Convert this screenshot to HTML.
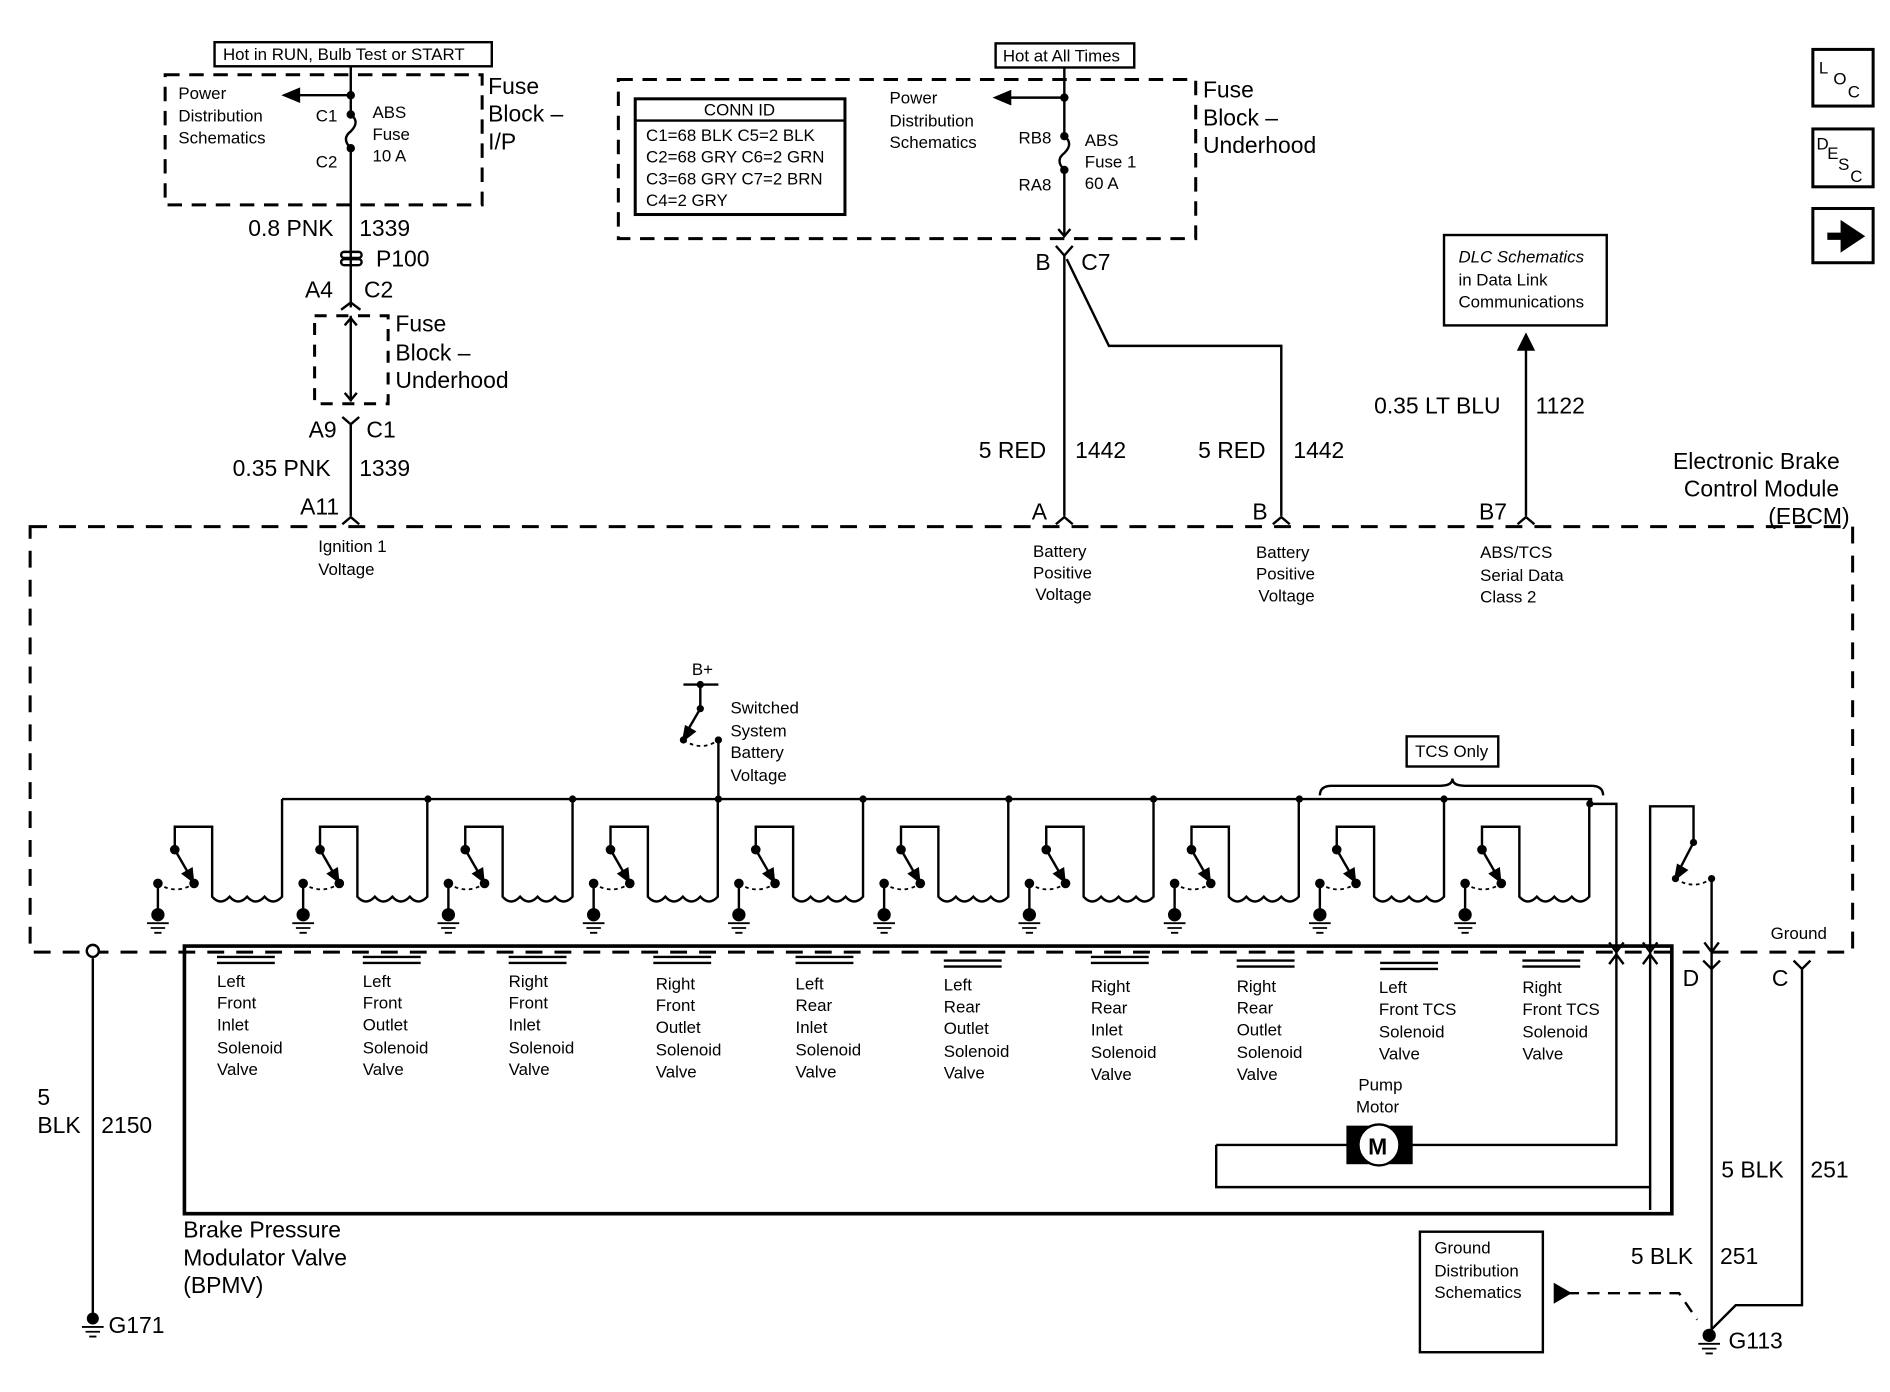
<!DOCTYPE html>
<html><head><meta charset="utf-8">
<style>
html,body{margin:0;padding:0;background:#fff;}
svg{display:block;}
text{font-family:"Liberation Sans",sans-serif;fill:#000;}
.s{font-size:14px;}
.m{font-size:19px;}
</style></head>
<body>
<svg width="1890" height="1392" viewBox="0 0 1568 1155" preserveAspectRatio="none" xmlns="http://www.w3.org/2000/svg">
<defs>
<g id="u" fill="none" stroke="#000" stroke-width="2">
  <path d="M145,705 V686 H176 V744 q7,8 14.5,0 q7,8 14.5,0 q7,8 14.5,0 q7,8 14.5,0 V663"/>
  <line x1="145" y1="705" x2="160" y2="731"/>
  <path d="M160,731 l-1,-10 l-7,4 z" fill="#000"/>
  <circle cx="145" cy="705" r="3" fill="#000"/>
  <circle cx="161" cy="733" r="3" fill="#000"/>
  <circle cx="131" cy="733" r="3" fill="#000"/>
  <path d="M131,733 q15,10 30,0" stroke-dasharray="3,3" stroke-width="1.5"/>
  <line x1="131" y1="733" x2="131" y2="755"/>
  <circle cx="131" cy="759" r="5.5" fill="#000" stroke="none"/>
  <path d="M122,766 h18 M125,770 h12 M128,774 h6" stroke-width="1.5"/>
</g>
</defs>

<g fill="none" stroke="#000" stroke-width="2">
<!-- top-left -->
<rect x="178" y="35" width="230" height="20"/>
<path d="M137,62 H400 V170 H137 Z" stroke-dasharray="12,8" stroke-width="2.5"/>
<line x1="291" y1="55" x2="291" y2="95"/>
<line x1="291" y1="79" x2="245" y2="79"/>
<path d="M236,79 l12,-5 v10 z" fill="#000"/>
<path d="M291,95 q8,6 0,14 q-8,6 0,14"/>
<line x1="291" y1="123" x2="291" y2="255"/>
<circle cx="291" cy="79" r="2.5" fill="#000"/><circle cx="291" cy="95" r="2.5" fill="#000"/><circle cx="291" cy="123" r="2.5" fill="#000"/>
<rect x="283" y="209" width="17" height="5" rx="2.5"/><rect x="283" y="215" width="17" height="5" rx="2.5"/>
<path d="M283,257 l8,-6 l8,6"/>
<path d="M261,262 H322 V335 H261 Z" stroke-dasharray="10,8" stroke-width="2.5"/>
<line x1="291" y1="262" x2="291" y2="333"/>
<path d="M286,270 l5,-6 l5,6 M286,326 l5,6 l5,-6"/>
<path d="M284,346 l7,6 l7,-6 M291,352 V428"/>
<path d="M284,435 l7,-6 l7,6"/>

<!-- top-middle -->
<rect x="826" y="36" width="115" height="20"/>
<path d="M513,66 H992 V198 H513 Z" stroke-dasharray="12,8" stroke-width="2.5"/>
<rect x="527" y="82" width="174" height="96" stroke-width="2.5"/>
<line x1="527" y1="100" x2="701" y2="100"/>
<line x1="883" y1="56" x2="883" y2="113"/>
<line x1="883" y1="81" x2="835" y2="81"/>
<path d="M826,81 l12,-5 v10 z" fill="#000"/>
<path d="M883,113 q8,6 0,14 q-8,6 0,14"/>
<line x1="883" y1="141" x2="883" y2="196"/>
<circle cx="883" cy="81" r="2.5" fill="#000"/><circle cx="883" cy="113" r="2.5" fill="#000"/><circle cx="883" cy="141" r="2.5" fill="#000"/>
<path d="M878,190 l5,6 l5,-6"/>
<path d="M876,204 l7,8 l7,-8 M883,212 V428"/>
<path d="M885,215 L920,287 H1063 V428"/>
<path d="M876,435 l7,-6 l7,6 M1056,435 l7,-6 l7,6"/>

<!-- DLC -->
<rect x="1198" y="195" width="135" height="75"/>
<line x1="1266" y1="290" x2="1266" y2="428"/>
<path d="M1266,278 l-6,12 h12 z" fill="#000"/>
<path d="M1259,435 l7,-6 l7,6"/>

<!-- icons -->
<rect x="1504" y="41" width="50" height="47" stroke-width="2.5"/>
<rect x="1504" y="107" width="50" height="48" stroke-width="2.5"/>
<rect x="1504" y="173" width="50" height="45" stroke-width="2.5"/>
<path d="M1516,196 h14 v-8 l12,8 l-12,8 v-8" fill="#000" stroke-width="6"/>

<!-- EBCM dashed -->
<path d="M25,437 H1537 V790 H25 Z" stroke-dasharray="14,10" stroke-width="2.5"/>

<!-- bus -->
<path d="M234,663 H1320 V665 M1319,667 H1341 V950 H1160"/>
<path d="M1335,782 l6,8 l6,-8 M1335,800 l6,-8 l6,8"/>
<!-- switch B+ -->
<path d="M567,568 H596 M581,568 V588 M596,614 V663"/>
<line x1="581" y1="588" x2="567" y2="612"/>
<path d="M567,614 l2,-11 l7,4 z" fill="#000"/>
<path d="M567,614 q15,10 29,0" stroke-dasharray="3,3" stroke-width="1.5"/>

<!-- pump relay -->
<path d="M1369,1004 V669 H1405 V699"/>
<line x1="1405" y1="699" x2="1391" y2="726"/>
<path d="M1390,729 l2,-11 l7,4 z" fill="#000"/>
<path d="M1390,729 q15,10 30,0" stroke-dasharray="3,3" stroke-width="1.5"/>
<path d="M1420,729 V1105"/>
<path d="M1363,782 l6,8 l6,-8 M1363,800 l6,-8 l6,8 M1414,782 l6,8 l6,-8 M1413,797 l7,7 l7,-7"/>
<path d="M1488,797 l7,7 l7,-7 M1495,804 V1083 H1440 L1420,1103"/>

<!-- BPMV -->
<path d="M153,1007 V785 H1387 V1007 Z" stroke-width="3"/>
<path d="M1009,950 H1125 M1009,950 V985 H1369" />
<rect x="1118" y="935" width="53" height="30" fill="#000"/>
<circle cx="1144" cy="950" r="17" fill="#fff" stroke-width="2"/>

<!-- TCS brace -->
<rect x="1167" y="611" width="76" height="25"/>
<path d="M1095,660 q0,-8 10,-8 H1195 q10,0 10,-6 q0,6 10,6 H1320 q10,0 10,8"/>

<!-- ground dist -->
<rect x="1178" y="1022" width="102" height="100"/>
<path d="M1300,1073 H1393 L1408,1095" stroke-dasharray="10,7"/>
<path d="M1290,1066 l12,7 l-12,7 z" fill="#000"/>

<!-- G171 -->
<line x1="77" y1="795" x2="77" y2="1090"/>
<circle cx="77" cy="789" r="5" fill="#fff"/>
</g>
<circle cx="77" cy="1094" r="5" fill="#000"/>
<path d="M68,1101 h18 M71,1105 h12 M74,1109 h6" stroke="#000" stroke-width="1.5"/>
<circle cx="1418" cy="1108" r="5.5" fill="#000"/>
<path d="M1409,1115 h18 M1412,1119 h12 M1415,1123 h6" stroke="#000" stroke-width="1.5"/>

<!-- bus junction dots -->
<g fill="#000">
<circle cx="355" cy="663" r="3"/><circle cx="475" cy="663" r="3"/><circle cx="596" cy="663" r="3"/><circle cx="716" cy="663" r="3"/><circle cx="837" cy="663" r="3"/><circle cx="957" cy="663" r="3"/><circle cx="1078" cy="663" r="3"/><circle cx="1198" cy="663" r="3"/><circle cx="1319" cy="667" r="3"/>
<circle cx="581" cy="568" r="3"/><circle cx="581" cy="588" r="3"/><circle cx="567" cy="614" r="3"/><circle cx="596" cy="614" r="3"/>
<circle cx="1405" cy="699" r="3"/><circle cx="1390" cy="729" r="3"/><circle cx="1420" cy="729" r="3"/>
</g>

<use href="#u"/>
<use href="#u" x="120.5"/>
<use href="#u" x="241"/>
<use href="#u" x="361.5"/>
<use href="#u" x="482"/>
<use href="#u" x="602.5"/>
<use href="#u" x="723"/>
<use href="#u" x="843.5"/>
<use href="#u" x="964"/>
<use href="#u" x="1084.5"/>

<!-- valve label double bars -->
<g stroke="#000" stroke-width="2">
<path d="M180,794 h48 M180,799 h48 M301,794 h48 M301,799 h48 M422,794 h48 M422,799 h48 M542,794 h48 M542,799 h48 M660,794 h48 M660,799 h48 M783,797 h48 M783,802 h48 M905,794 h48 M905,799 h48 M1026,797 h48 M1026,802 h48 M1145,799 h48 M1145,804 h48 M1263,797 h48 M1263,802 h48"/>
</g>

<!-- texts -->
<text class="s" x="185" y="50">Hot in RUN, Bulb Test or START</text>
<text class="s" x="148" y="82">Power</text><text class="s" x="148" y="101">Distribution</text><text class="s" x="148" y="119">Schematics</text>
<text class="s" x="262" y="101">C1</text><text class="s" x="262" y="139">C2</text>
<text class="s" x="309" y="98">ABS</text><text class="s" x="309" y="116">Fuse</text><text class="s" x="309" y="134">10 A</text>
<text class="m" x="405" y="78">Fuse</text><text class="m" x="405" y="101">Block –</text><text class="m" x="405" y="124">I/P</text>
<text class="m" x="206" y="196">0.8 PNK</text><text class="m" x="298" y="196">1339</text>
<text class="m" x="312" y="221">P100</text>
<text class="m" x="253" y="247">A4</text><text class="m" x="302" y="247">C2</text>
<text class="m" x="328" y="275">Fuse</text><text class="m" x="328" y="299">Block –</text><text class="m" x="328" y="322">Underhood</text>
<text class="m" x="256" y="363">A9</text><text class="m" x="304" y="363">C1</text>
<text class="m" x="193" y="395">0.35 PNK</text><text class="m" x="298" y="395">1339</text>
<text class="m" x="249" y="427">A11</text>
<text class="s" x="264" y="458">Ignition 1</text><text class="s" x="264" y="477">Voltage</text>

<text class="s" x="832" y="51">Hot at All Times</text>
<text class="s" x="584" y="96">CONN ID</text>
<text class="s" x="536" y="117">C1=68 BLK  C5=2 BLK</text>
<text class="s" x="536" y="135">C2=68 GRY C6=2 GRN</text>
<text class="s" x="536" y="153">C3=68 GRY C7=2 BRN</text>
<text class="s" x="536" y="171">C4=2 GRY</text>
<text class="s" x="738" y="86">Power</text><text class="s" x="738" y="105">Distribution</text><text class="s" x="738" y="123">Schematics</text>
<text class="s" x="845" y="119">RB8</text><text class="s" x="845" y="158">RA8</text>
<text class="s" x="900" y="121">ABS</text><text class="s" x="900" y="139">Fuse 1</text><text class="s" x="900" y="157">60 A</text>
<text class="m" x="998" y="81">Fuse</text><text class="m" x="998" y="104">Block –</text><text class="m" x="998" y="127">Underhood</text>
<text class="m" x="859" y="224">B</text><text class="m" x="897" y="224">C7</text>
<text class="m" x="812" y="380">5 RED</text><text class="m" x="892" y="380">1442</text>
<text class="m" x="994" y="380">5 RED</text><text class="m" x="1073" y="380">1442</text>
<text class="m" x="856" y="431">A</text><text class="m" x="1039" y="431">B</text><text class="m" x="1227" y="431">B7</text>
<text class="s" x="857" y="462">Battery</text><text class="s" x="857" y="480">Positive</text><text class="s" x="859" y="498">Voltage</text>
<text class="s" x="1042" y="463">Battery</text><text class="s" x="1042" y="481">Positive</text><text class="s" x="1044" y="499">Voltage</text>
<text class="s" x="1228" y="463">ABS/TCS</text><text class="s" x="1228" y="482">Serial Data</text><text class="s" x="1228" y="500">Class 2</text>
<text class="s" x="1210" y="218" font-style="italic">DLC Schematics</text><text class="s" x="1210" y="237">in Data Link</text><text class="s" x="1210" y="255">Communications</text>
<text class="m" x="1140" y="343">0.35 LT BLU</text><text class="m" x="1274" y="343">1122</text>
<text class="m" x="1388" y="389">Electronic Brake</text><text class="m" x="1397" y="412">Control Module</text><text class="m" x="1467" y="435">(EBCM)</text>
<text class="s" x="1509" y="61">L</text><text class="s" x="1521" y="70">O</text><text class="s" x="1533" y="81">C</text>
<text class="s" x="1507" y="124">D</text><text class="s" x="1516" y="132">E</text><text class="s" x="1525" y="141">S</text><text class="s" x="1535" y="151">C</text>

<text class="s" x="574" y="560">B+</text>
<text class="s" x="606" y="592">Switched</text><text class="s" x="606" y="611">System</text><text class="s" x="606" y="629">Battery</text><text class="s" x="606" y="648">Voltage</text>
<text class="s" x="1174" y="628">TCS Only</text>
<text class="s" x="1469" y="779">Ground</text>

<g class="s">
<text class="s" x="180" y="819">Left</text><text class="s" x="180" y="837">Front</text><text class="s" x="180" y="855">Inlet</text><text class="s" x="180" y="874">Solenoid</text><text class="s" x="180" y="892">Valve</text>
<text class="s" x="301" y="819">Left</text><text class="s" x="301" y="837">Front</text><text class="s" x="301" y="855">Outlet</text><text class="s" x="301" y="874">Solenoid</text><text class="s" x="301" y="892">Valve</text>
<text class="s" x="422" y="819">Right</text><text class="s" x="422" y="837">Front</text><text class="s" x="422" y="855">Inlet</text><text class="s" x="422" y="874">Solenoid</text><text class="s" x="422" y="892">Valve</text>
<text class="s" x="544" y="821">Right</text><text class="s" x="544" y="839">Front</text><text class="s" x="544" y="857">Outlet</text><text class="s" x="544" y="876">Solenoid</text><text class="s" x="544" y="894">Valve</text>
<text class="s" x="660" y="821">Left</text><text class="s" x="660" y="839">Rear</text><text class="s" x="660" y="857">Inlet</text><text class="s" x="660" y="876">Solenoid</text><text class="s" x="660" y="894">Valve</text>
<text class="s" x="783" y="822">Left</text><text class="s" x="783" y="840">Rear</text><text class="s" x="783" y="858">Outlet</text><text class="s" x="783" y="877">Solenoid</text><text class="s" x="783" y="895">Valve</text>
<text class="s" x="905" y="823">Right</text><text class="s" x="905" y="841">Rear</text><text class="s" x="905" y="859">Inlet</text><text class="s" x="905" y="878">Solenoid</text><text class="s" x="905" y="896">Valve</text>
<text class="s" x="1026" y="823">Right</text><text class="s" x="1026" y="841">Rear</text><text class="s" x="1026" y="859">Outlet</text><text class="s" x="1026" y="878">Solenoid</text><text class="s" x="1026" y="896">Valve</text>
<text class="s" x="1144" y="824">Left</text><text class="s" x="1144" y="842">Front TCS</text><text class="s" x="1144" y="861">Solenoid</text><text class="s" x="1144" y="879">Valve</text>
<text class="s" x="1263" y="824">Right</text><text class="s" x="1263" y="842">Front TCS</text><text class="s" x="1263" y="861">Solenoid</text><text class="s" x="1263" y="879">Valve</text>
</g>
<text class="s" x="1127" y="905">Pump</text><text class="s" x="1125" y="923">Motor</text>
<text x="1135" y="958" font-size="19" font-weight="bold">M</text>
<text class="m" x="1396" y="818">D</text><text class="m" x="1470" y="818">C</text>
<text class="m" x="31" y="917">5</text><text class="m" x="31" y="940">BLK</text><text class="m" x="84" y="940">2150</text>
<text class="m" x="152" y="1027">Brake Pressure</text><text class="m" x="152" y="1050">Modulator Valve</text><text class="m" x="152" y="1073">(BPMV)</text>
<text class="m" x="90" y="1106">G171</text>
<text class="m" x="1428" y="977">5 BLK</text><text class="m" x="1502" y="977">251</text>
<text class="m" x="1353" y="1049">5 BLK</text><text class="m" x="1427" y="1049">251</text>
<text class="m" x="1434" y="1119">G113</text>
<text class="s" x="1190" y="1040">Ground</text><text class="s" x="1190" y="1059">Distribution</text><text class="s" x="1190" y="1077">Schematics</text>
</svg>
</body></html>
